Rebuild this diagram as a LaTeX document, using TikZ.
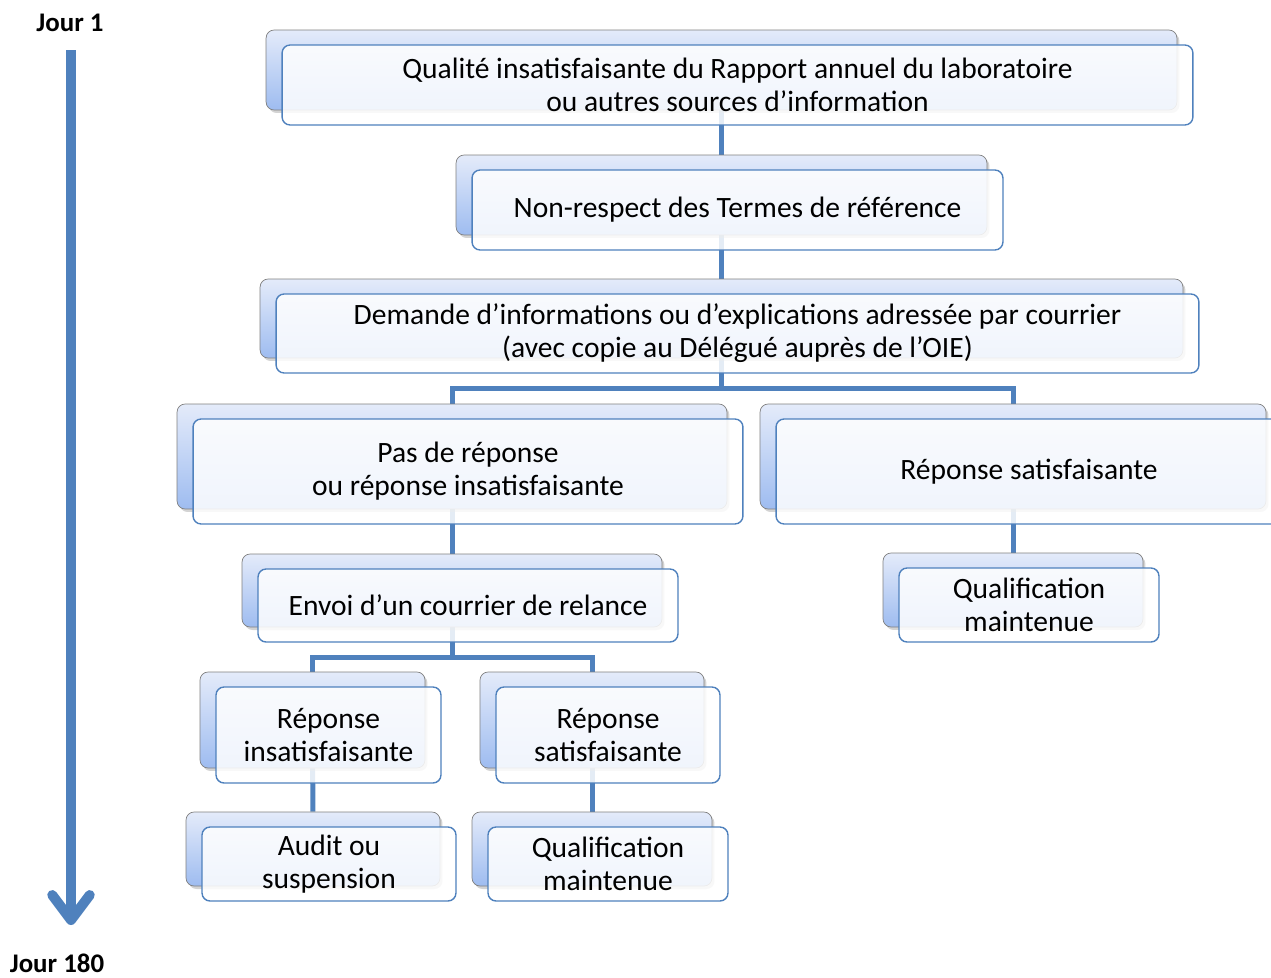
\documentclass[tikz,border=0pt]{standalone}
\usepackage{fontspec}
\setmainfont{Carlito}
\usepackage{tikz}
\usetikzlibrary{arrows.meta, shadows, backgrounds}
\definecolor{officeblue}{RGB}{79,129,189}
\definecolor{backtop}{RGB}{228,235,250}
\definecolor{backbot}{RGB}{158,188,240}
\definecolor{backline}{RGB}{128,128,128}
\tikzstyle{backbox} = [rectangle, rounded corners=0.16cm, draw=backline, thin, top color=backtop, bottom color=backbot, drop shadow={shadow xshift=0.05cm, shadow yshift=-0.06cm, opacity=0.35}]
\tikzstyle{frontbox} = [rectangle, rounded corners=0.16cm, draw=officeblue, line width=0.8pt, fill=white, fill opacity=0.85, text opacity=1, align=center, font=\fontsize{16.8}{18.8}\selectfont]
\tikzstyle{conn} = [officeblue, line width=0.1cm]
\tikzstyle{timeline} = [officeblue, line width=0.2cm, -{Straight Barb[length=0.5cm, width=0.75cm, round]}]
\tikzstyle{daylabel} = [font=\bfseries\fontsize{15.3}{18}\selectfont]

\begin{document}
\begin{tikzpicture}[x=0.02cm, y=-0.02cm]

  \useasboundingbox (0,0) rectangle (1271,977);
  \clip (0,0) rectangle (1271,977);

  % time axis
  \node (jour1) [daylabel] at (70,23) {Jour 1};
  \node (jour180) [daylabel] at (57,963) {Jour 180};
  \coordinate (tstart) at (71,50);
  \coordinate (tend) at (71,925);
  \draw [timeline] (tstart) -- (tend);

  % boxes
  \node (qualite) [backbox, minimum width=18.22cm, minimum height=1.6cm] at (721.5,70) {};
  \node (qualite-f) [frontbox, minimum width=18.22cm, minimum height=1.6cm] at ([xshift=0.32cm,yshift=-0.3cm]qualite.center) {Qualité insatisfaisante du Rapport annuel du laboratoire\\ou autres sources d’information};
  \node (nonrespect) [backbox, minimum width=10.62cm, minimum height=1.6cm] at (721.5,195) {};
  \node (nonrespect-f) [frontbox, minimum width=10.62cm, minimum height=1.6cm] at ([xshift=0.32cm,yshift=-0.3cm]nonrespect.center) {Non-respect des Termes de référence};
  \node (demande) [backbox, minimum width=18.46cm, minimum height=1.58cm] at (721.5,318.5) {};
  \node (demande-f) [frontbox, minimum width=18.46cm, minimum height=1.58cm] at ([xshift=0.32cm,yshift=-0.3cm]demande.center) {Demande d’informations ou d’explications adressée par courrier\\(avec copie au Délégué auprès de l’OIE)};
  \node (pasrep) [backbox, minimum width=11cm, minimum height=2.1cm] at (452,456.5) {};
  \node (pasrep-f) [frontbox, minimum width=11cm, minimum height=2.1cm] at ([xshift=0.32cm,yshift=-0.3cm]pasrep.center) {Pas de réponse\\ou réponse insatisfaisante};
  \node (repsat) [backbox, minimum width=10.12cm, minimum height=2.1cm] at (1013,456.5) {};
  \node (repsat-f) [frontbox, minimum width=10.12cm, minimum height=2.1cm] at ([xshift=0.32cm,yshift=-0.3cm]repsat.center) {Réponse satisfaisante};
  \node (relance) [backbox, minimum width=8.4cm, minimum height=1.46cm] at (452,590.5) {};
  \node (relance-f) [frontbox, minimum width=8.4cm, minimum height=1.46cm] at ([xshift=0.32cm,yshift=-0.3cm]relance.center) {Envoi d’un courrier de relance};
  \node (maintenue) [backbox, minimum width=5.2cm, minimum height=1.48cm] at (1013,590) {};
  \node (maintenue-f) [frontbox, minimum width=5.2cm, minimum height=1.48cm] at ([xshift=0.32cm,yshift=-0.3cm]maintenue.center) {Qualification\\maintenue};
  \node (repinsat) [backbox, minimum width=4.5cm, minimum height=1.92cm] at (312.5,720) {};
  \node (repinsat-f) [frontbox, minimum width=4.5cm, minimum height=1.92cm] at ([xshift=0.32cm,yshift=-0.3cm]repinsat.center) {Réponse\\insatisfaisante};
  \node (repsatb) [backbox, minimum width=4.48cm, minimum height=1.92cm] at (592,720) {};
  \node (repsatb-f) [frontbox, minimum width=4.48cm, minimum height=1.92cm] at ([xshift=0.32cm,yshift=-0.3cm]repsatb.center) {Réponse\\satisfaisante};
  \node (audit) [backbox, minimum width=5.08cm, minimum height=1.48cm] at (313,849) {};
  \node (audit-f) [frontbox, minimum width=5.08cm, minimum height=1.48cm] at ([xshift=0.32cm,yshift=-0.3cm]audit.center) {Audit ou\\suspension};
  \node (maintenueb) [backbox, minimum width=4.8cm, minimum height=1.48cm] at (592,849) {};
  \node (maintenueb-f) [frontbox, minimum width=4.8cm, minimum height=1.48cm] at ([xshift=0.32cm,yshift=-0.3cm]maintenueb.center) {Qualification\\maintenue};

  % connectors behind the boxes
  \coordinate (split1) at (721.5,388);
  \coordinate (split2) at (452,657);
  \begin{scope}[on background layer]
    \draw [conn] (qualite) -- (nonrespect);
    \draw [conn] (nonrespect) -- (demande);
    \draw [conn] (demande) -- (split1);
    \draw [conn] (split1) -| (pasrep);
    \draw [conn] (split1) -| (repsat);
    \draw [conn] (pasrep) -- (relance);
    \draw [conn] (repsat) -- (maintenue);
    \draw [conn] (relance) -- (split2);
    \draw [conn] (split2) -| (repinsat);
    \draw [conn] (split2) -| (repsatb);
    \draw [conn] (repinsat) -- (audit);
    \draw [conn] (repsatb) -- (maintenueb);
  \end{scope}

\end{tikzpicture}
\end{document}
